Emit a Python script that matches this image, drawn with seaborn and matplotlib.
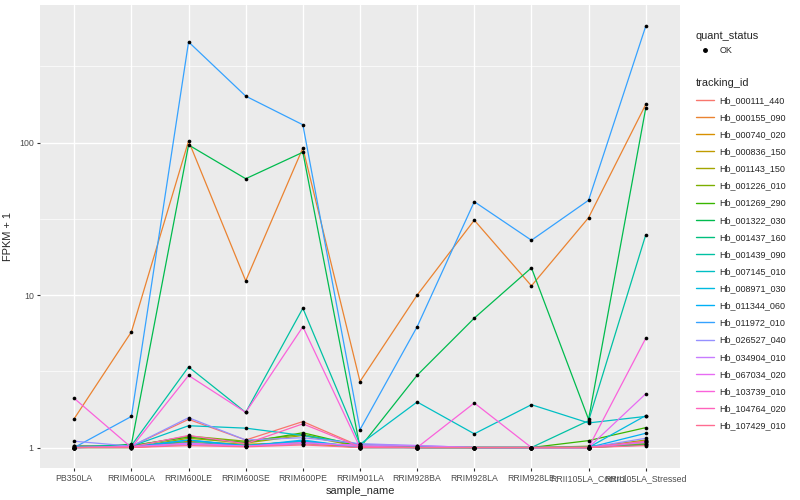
import numpy as np
import pandas as pd
import matplotlib
matplotlib.use("Agg")
import matplotlib.pyplot as plt
from matplotlib.lines import Line2D
import seaborn as sns

samples = ["PB350LA", "RRIM600LA", "RRIM600LE", "RRIM600SE", "RRIM600PE", "RRIM901LA",
           "RRIM928BA", "RRIM928LA", "RRIM928LE", "RRII105LA_Control", "RRII105LA_Stressed"]

tracking_ids = ["Hb_000111_440", "Hb_000155_090", "Hb_000740_020", "Hb_000836_150",
                "Hb_001143_150", "Hb_001226_010", "Hb_001269_290", "Hb_001322_030",
                "Hb_001437_160", "Hb_001439_090", "Hb_007145_010", "Hb_008971_030",
                "Hb_011344_060", "Hb_011972_010", "Hb_026527_040", "Hb_034904_010",
                "Hb_067034_020", "Hb_103739_010", "Hb_104764_020", "Hb_107429_010"]

# FPKM + 1 per tracking_id, one value per sample
hb_000111_440 = [1.03, 1.02, 1.53, 1.12, 1.48, 1.02, 1.01, 1.00, 1.00, 1.00, 1.08]
hb_000155_090 = [1.55, 5.74, 102.6, 12.4, 92.3, 2.71, 10.0, 31.0, 11.5, 32.2, 178.0]
hb_000740_020 = [1.00, 1.00, 1.05, 1.02, 1.06, 1.00, 1.00, 1.00, 1.00, 1.00, 1.10]
hb_000836_150 = [1.02, 1.01, 1.10, 1.05, 1.08, 1.00, 1.00, 1.00, 1.00, 1.00, 1.05]
hb_001143_150 = [1.00, 1.00, 1.15, 1.07, 1.20, 1.01, 1.00, 1.00, 1.00, 1.00, 1.12]
hb_001226_010 = [1.00, 1.02, 1.19, 1.10, 1.22, 1.02, 1.00, 1.00, 1.00, 1.02, 1.06]
hb_001269_290 = [1.00, 1.03, 1.17, 1.08, 1.25, 1.02, 1.00, 1.00, 1.00, 1.11, 1.35]
hb_001322_030 = [1.00, 1.05, 96.6, 58.0, 86.5, 1.00, 2.98, 7.06, 15.1, 1.53, 168.0]
hb_001437_160 = [1.00, 1.02, 1.08, 1.03, 1.10, 1.01, 1.00, 1.00, 1.00, 1.00, 1.04]
hb_001439_090 = [1.02, 1.03, 3.38, 1.70, 8.20, 1.05, 1.02, 1.00, 1.00, 1.50, 24.8]
hb_007145_010 = [1.00, 1.02, 1.39, 1.34, 1.20, 1.05, 1.99, 1.23, 1.91, 1.45, 1.60]
hb_008971_030 = [1.00, 1.01, 1.12, 1.03, 1.10, 1.00, 1.00, 1.00, 1.00, 1.00, 1.62]
hb_011344_060 = [1.00, 1.00, 1.12, 1.02, 1.12, 1.00, 1.00, 1.00, 1.00, 1.00, 1.24]
hb_011972_010 = [1.00, 1.60, 458.0, 202.0, 131.0, 1.31, 6.20, 41.0, 22.9, 41.9, 580.0]
hb_026527_040 = [1.10, 1.02, 1.57, 1.12, 1.16, 1.06, 1.03, 1.00, 1.00, 1.00, 1.15]
hb_034904_010 = [1.00, 1.01, 1.05, 1.02, 1.06, 1.04, 1.03, 1.00, 1.00, 1.00, 1.08]
hb_067034_020 = [1.00, 1.01, 1.07, 1.02, 1.08, 1.02, 1.00, 1.00, 1.00, 1.00, 2.25]
hb_103739_010 = [2.10, 1.00, 2.97, 1.70, 6.20, 1.00, 1.00, 1.96, 1.00, 1.00, 5.20]
hb_104764_020 = [1.00, 1.01, 1.20, 1.06, 1.43, 1.01, 1.00, 1.00, 1.00, 1.00, 1.10]
hb_107429_010 = [1.00, 1.00, 1.03, 1.01, 1.04, 1.00, 1.00, 1.00, 1.00, 1.00, 1.03]

series = [hb_000111_440, hb_000155_090, hb_000740_020, hb_000836_150, hb_001143_150,
          hb_001226_010, hb_001269_290, hb_001322_030, hb_001437_160, hb_001439_090,
          hb_007145_010, hb_008971_030, hb_011344_060, hb_011972_010, hb_026527_040,
          hb_034904_010, hb_067034_020, hb_103739_010, hb_104764_020, hb_107429_010]

# ggplot default hue palette for 20 levels
colors = ["#F8766D", "#EA8331", "#D89000", "#C09B00", "#A3A500", "#7CAE00", "#39B600",
          "#00BB4E", "#00BF7D", "#00C1A3", "#00BFC4", "#00BAE0", "#00B0F6", "#35A2FF",
          "#9590FF", "#C77CFF", "#E76BF3", "#FA62DB", "#FF62BC", "#FF6C91"]

rows = []
for tid, vals in zip(tracking_ids, series):
    for i, s in enumerate(samples):
        rows.append({"tracking_id": tid, "sample_name": s, "pos": i, "fpkm": vals[i], "quant_status": "OK"})
df = pd.DataFrame(rows)

sns.set_theme(style="darkgrid", rc={"axes.facecolor": "#EBEBEB", "grid.color": "white"})
plt.rcParams["font.family"] = ["Liberation Sans", "DejaVu Sans"]

fig = plt.figure(figsize=(8, 5), dpi=100)
ax = fig.add_axes([0.05, 0.064, 0.80, 0.926])

sns.lineplot(data=df, x="pos", y="fpkm", hue="tracking_id", hue_order=tracking_ids,
             palette=colors, linewidth=0.9, legend=False, ax=ax, sort=False)
ax.scatter(df["pos"], df["fpkm"], s=7, color="black", zorder=5, linewidths=0)

ax.set_yscale("log")
ax.set_ylim(0.734, 800)
ax.set_xlim(-0.6, 10.6)
ax.set_yticks([1, 10, 100])
ax.set_yticklabels(["1", "10", "100"])
ax.set_yticks([10 ** 0.5, 10 ** 1.5, 10 ** 2.5], minor=True)
ax.set_xticks(range(len(samples)))
ax.set_xticklabels(samples)
ax.grid(True, which="major", color="white", linewidth=1.0)
ax.grid(True, which="minor", axis="y", color="white", linewidth=0.5)
ax.tick_params(axis="both", which="major", length=2.5, width=0.8, color="#333333",
               labelsize=6.3, labelcolor="#4D4D4D", pad=2, bottom=True, left=True)
ax.tick_params(axis="both", which="minor", length=0)
for sp in ax.spines.values():
    sp.set_visible(False)
ax.set_xlabel("sample_name", fontsize=7.9, labelpad=2)
ax.set_ylabel("FPKM + 1", fontsize=7.9, labelpad=4)

# legends
h1 = [Line2D([], [], marker="o", color="black", linestyle="none", markersize=2.5)]
leg1 = fig.legend(h1, ["OK"], title="quant_status", loc="upper left",
                  bbox_to_anchor=(0.862, 0.95), frameon=False, fontsize=6.5,
                  title_fontsize=7.9, handlelength=2.0, handletextpad=0.6, borderpad=0.2)
leg1._legend_box.align = "left"
h2 = [Line2D([], [], color=c, linewidth=1.0) for c in colors]
leg2 = fig.legend(h2, tracking_ids, title="tracking_id", loc="upper left",
                  bbox_to_anchor=(0.862, 0.857), frameon=False, fontsize=6.5,
                  title_fontsize=7.9, handlelength=2.0, handletextpad=0.6,
                  labelspacing=0.9, borderpad=0.2)
leg2._legend_box.align = "left"

fig.savefig("out.png", dpi=100)
